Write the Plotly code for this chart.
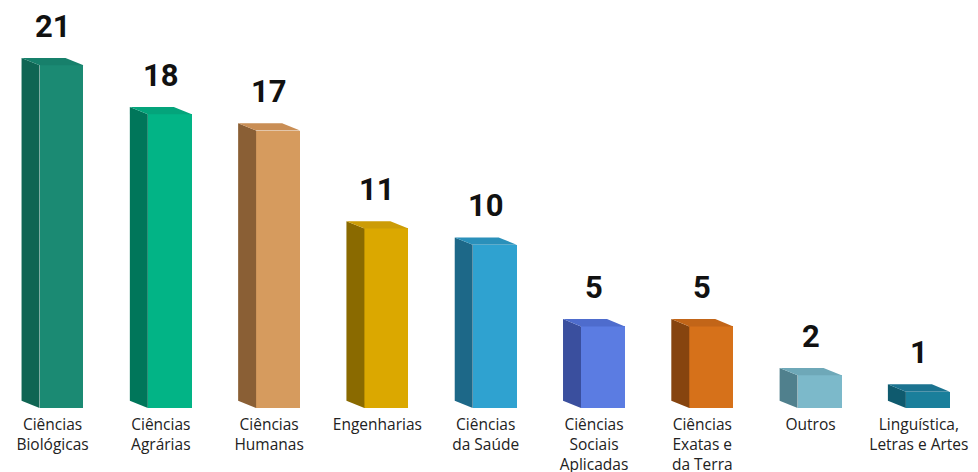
import plotly.graph_objects as go

categories = ["Ciências<br>Biológicas", "Ciências<br>Agrárias", "Ciências<br>Humanas",
              "Engenharias", "Ciências<br>da Saúde", "Ciências<br>Sociais<br>Aplicadas",
              "Ciências<br>Exatas e<br>da Terra", "Outros", "Linguística,<br>Letras e Artes"]
values = [21, 18, 17, 11, 10, 5, 5, 2, 1]
front_colors = ["#1b8a73", "#02b486", "#d69b5e", "#dba800", "#2fa2d0",
                "#5b7ce2", "#d6711a", "#7cb9ca", "#1a7f9b"]
side_colors = ["#0f6553", "#00765a", "#8a5f35", "#8a6a00", "#1d6888",
               "#3a4f9e", "#86440f", "#50808d", "#0f5a6e"]
top_colors = ["#17806b", "#04a47b", "#c98e55", "#cc9c06", "#2a90ba",
              "#4e6ccd", "#c26518", "#6ea8b8", "#1b7390"]

# geometry in axis units
front_left = -0.120
front_right = 0.286
side_left = -0.286
depth_y = 0.45

idx = list(range(len(values)))
fig = go.Figure()

fig.add_trace(go.Bar(
    x=[i + (front_left + front_right) / 2 for i in idx],
    y=values,
    width=front_right - front_left,
    marker=dict(color=front_colors, line=dict(width=0)),
    hoverinfo="skip",
    showlegend=False,
))

for i, v in enumerate(values):
    # side face
    fig.add_trace(go.Scatter(
        x=[i + front_left, i + front_left, i + side_left, i + side_left, i + front_left],
        y=[0, v, v + depth_y, depth_y, 0],
        fill="toself", fillcolor=side_colors[i], mode="lines",
        line=dict(width=0, color=side_colors[i]), hoverinfo="skip", showlegend=False,
    ))
    # top face
    shift = front_left - side_left
    fig.add_trace(go.Scatter(
        x=[i + front_left, i + front_right, i + front_right - shift, i + side_left, i + front_left],
        y=[v, v, v + depth_y, v + depth_y, v],
        fill="toself", fillcolor=top_colors[i], mode="lines",
        line=dict(width=0, color=top_colors[i]), hoverinfo="skip", showlegend=False,
    ))
    fig.add_annotation(
        x=i, y=v + depth_y, text=str(v), showarrow=False,
        xanchor="center", yanchor="bottom", yshift=11,
        font=dict(family="Roboto", size=31, color="#111111", weight="bold"),
    )

fig.update_layout(
    width=978, height=472,
    margin=dict(l=0, r=0, t=0, b=64),
    paper_bgcolor="white", plot_bgcolor="white",
    bargap=0,
    xaxis=dict(
        range=[-0.485, 8.546], tickmode="array", tickvals=idx, ticktext=categories,
        showgrid=False, zeroline=False, showline=False, ticks="",
        tickfont=dict(family="Open Sans", size=15.5, color="#222222", weight=500),
        automargin=False, ticklabelstandoff=5,
        fixedrange=True,
    ),
    yaxis=dict(range=[0, 25], showgrid=False, zeroline=False, showline=False,
               showticklabels=False, fixedrange=True, automargin=False),
)

fig.write_html("out.html", config={"displayModeBar": False},
               post_script="document.body.style.margin='0';document.body.style.overflow='hidden';")
